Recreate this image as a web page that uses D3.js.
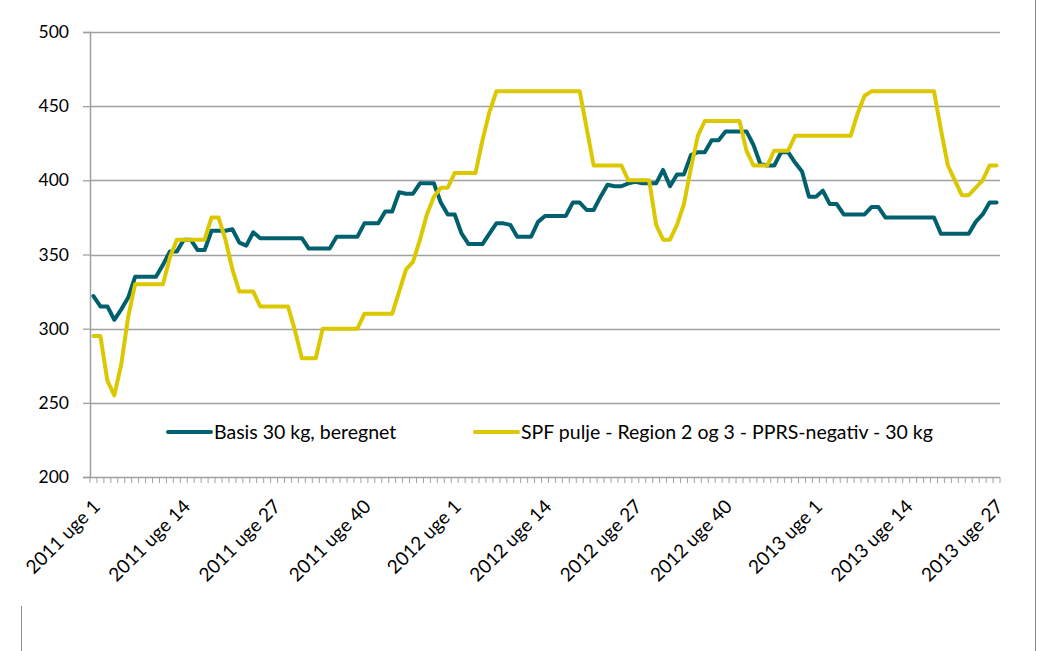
<!DOCTYPE html>
<html>
<head>
<meta charset="utf-8">
<script src="https://cdn.jsdelivr.net/npm/d3@7"></script>
<style>
  html, body { margin: 0; padding: 0; background: #fff; }
  svg { display: block; }
  text { font-family: Lato, "Open Sans", sans-serif; fill: #000; }
</style>
</head>
<body>
<svg id="chart" width="1037" height="651"></svg>
<script>
// ---- data ----
const years = [2011, 2012, 2013];
const weeksPerYear = [52, 52, 27];
const categories = [];
years.forEach((yr, k) => { for (let w = 1; w <= weeksPerYear[k]; w++) categories.push(yr + " uge " + w); });

const tickLabels = ["2011 uge 1", "2011 uge 14", "2011 uge 27", "2011 uge 40",
  "2012 uge 1", "2012 uge 14", "2012 uge 27", "2012 uge 40",
  "2013 uge 1", "2013 uge 14", "2013 uge 27"];

const yTicks = [200, 250, 300, 350, 400, 450, 500];

const seriesNames = ["Basis 30 kg, beregnet", "SPF pulje - Region 2 og 3 - PPRS-negativ - 30 kg"];

const basis = [
  322, 315, 315, 306, 313, 321, 335, 335, 335, 335,
  343, 352, 352, 360, 360, 353, 353, 366, 366, 366,
  367, 358, 356, 365, 361, 361, 361, 361, 361, 361,
  361, 354, 354, 354, 354, 362, 362, 362, 362, 371,
  371, 371, 379, 379, 392, 391, 391, 398, 398, 398,
  385, 377, 377, 364, 357, 357, 357, 364, 371, 371,
  370, 362, 362, 362, 372, 376, 376, 376, 376, 385,
  385, 380, 380, 389, 397, 396, 396, 398, 399, 398,
  398, 398, 407, 396, 404, 404, 417, 419, 419, 427,
  427, 433, 433, 433, 433, 424, 411, 410, 410, 419,
  419, 412, 406, 389, 389, 393, 384, 384, 377, 377,
  377, 377, 382, 382, 375, 375, 375, 375, 375, 375,
  375, 375, 364, 364, 364, 364, 364, 372, 377, 385, 385
];

const spf = [
  295, 295, 265, 255, 276, 308, 330, 330, 330, 330,
  330, 348, 360, 360, 360, 360, 360, 375, 375, 360,
  340, 325, 325, 325, 315, 315, 315, 315, 315, 299,
  280, 280, 280, 300, 300, 300, 300, 300, 300, 310,
  310, 310, 310, 310, 325, 340, 345, 360, 377, 389,
  395, 395, 405, 405, 405, 405, 427, 446, 460, 460,
  460, 460, 460, 460, 460, 460, 460, 460, 460, 460,
  460, 435, 410, 410, 410, 410, 410, 400, 400, 400,
  400, 370, 360, 360, 370, 384, 408, 430, 440, 440,
  440, 440, 440, 440, 420, 410, 410, 410, 420, 420,
  420, 430, 430, 430, 430, 430, 430, 430, 430, 430,
  445, 457, 460, 460, 460, 460, 460, 460, 460, 460,
  460, 460, 434, 410, 400, 390, 390, 395, 400, 410, 410
];

const colors = ["#00606e", "#dcc800"];

// ---- layout ----
const svg = d3.select("#chart");
const plotL = 90, plotR = 1000, plotT = 32, plotB = 477;

const x = d3.scaleBand().domain(categories).range([plotL, plotR]).paddingInner(0).paddingOuter(0);
const bw = x.bandwidth();
const cx = c => x(c) + bw / 2;
const y = d3.scaleLinear().domain([200, 500]).range([plotB, plotT]);

// frame lines
svg.append("line").attr("x1", 1035.5).attr("x2", 1035.5).attr("y1", 0).attr("y2", 651)
  .attr("stroke", "#8c8c8c").attr("stroke-width", 1);
svg.append("line").attr("x1", 21.5).attr("x2", 21.5).attr("y1", 606).attr("y2", 651)
  .attr("stroke", "#8c8c8c").attr("stroke-width", 1);

// gridlines
svg.append("g").selectAll("line").data(yTicks.filter(v => v > 200)).join("line")
  .attr("x1", plotL).attr("x2", plotR)
  .attr("y1", d => Math.round(y(d)) + 0.5).attr("y2", d => Math.round(y(d)) + 0.5)
  .attr("stroke", "#a0a0a0").attr("stroke-width", 1.3);

// y axis
const yAxis = svg.append("g").attr("transform", `translate(${plotL},0)`)
  .call(d3.axisLeft(y).tickValues(yTicks).tickSize(7).tickPadding(14).tickFormat(d3.format("d")));
yAxis.select(".domain").attr("stroke", "#a0a0a0").attr("stroke-width", 1.5);
yAxis.selectAll(".tick line").attr("stroke", "#a0a0a0").attr("stroke-width", 1.3);
yAxis.selectAll(".tick text").style("font-family", "Lato, sans-serif").style("font-size", "17.5px").attr("fill", "#000");

// x axis baseline and category ticks (between tick marks)
const xb = svg.append("g");
xb.append("line").attr("x1", plotL).attr("x2", plotR).attr("y1", plotB + 0.5).attr("y2", plotB + 0.5)
  .attr("stroke", "#a0a0a0").attr("stroke-width", 1.5);
const bounds = categories.map(c => x(c)).concat([plotR]);
xb.selectAll("line.t").data(bounds).join("line").attr("class", "t")
  .attr("x1", d => d).attr("x2", d => d).attr("y1", plotB).attr("y2", plotB + 6)
  .attr("stroke", "#a0a0a0").attr("stroke-width", 1);

// x labels
svg.append("g").selectAll("text").data(tickLabels).join("text")
  .attr("transform", d => `translate(${cx(d) + 3},${plotB + 26}) rotate(-45)`)
  .attr("text-anchor", "end").attr("dy", "0.35em")
  .style("font-size", "19px")
  .text(d => d);

// lines
const line = d3.line().x((d, i) => cx(categories[i])).y(d => y(d));
[basis, spf].forEach((s, k) => {
  svg.append("path").datum(s).attr("d", line)
    .attr("fill", "none").attr("stroke", colors[k]).attr("stroke-width", 4)
    .attr("stroke-linejoin", "round").attr("stroke-linecap", "round");
});

// legend
const legY = 432;
const legItems = [{ x0: 168, x1: 211, tx: 214 }, { x0: 475, x1: 518, tx: 521 }];
legItems.forEach((it, k) => {
  svg.append("line").attr("x1", it.x0).attr("x2", it.x1).attr("y1", legY).attr("y2", legY)
    .attr("stroke", colors[k]).attr("stroke-width", 4).attr("stroke-linecap", "round");
  svg.append("text").attr("x", it.tx).attr("y", legY).attr("dy", "0.35em")
    .style("font-size", "19.5px").text(seriesNames[k]);
});
</script>
</body>
</html>
